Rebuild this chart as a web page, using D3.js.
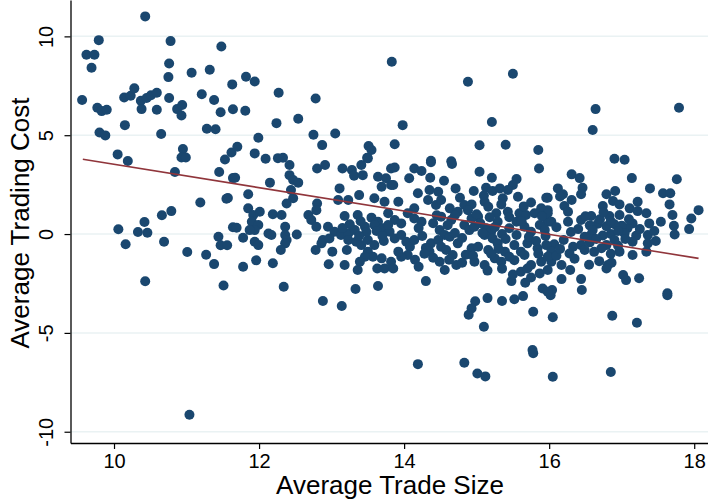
<!DOCTYPE html>
<html>
<head>
<meta charset="utf-8">
<script src="https://cdn.jsdelivr.net/npm/d3@7"></script>
<style>
  html, body { margin: 0; padding: 0; background: #fff; }
  svg { display: block; font-family: "Liberation Sans", Arial, sans-serif; }
</style>
</head>
<body>
<div id="chart"></div>
<script>
// tick labels
const xTicks = [10, 12, 14, 16, 18];
const yTicks = [-10, -5, 0, 5, 10];

// fitted line
const fitX = [9.57, 18.06];
const fitY = [3.78, -1.23];

// [average trade size, average trading cost]
const points = [
  [10.43, 11.01], [9.79, 9.81], [10.78, 9.76], [9.62, 9.07], [9.73, 9.07], [11.48, 9.49],
  [9.69, 8.41], [10.76, 8.63], [10.75, 7.94], [11.07, 8.16], [11.32, 8.31], [11.63, 7.57],
  [9.56, 6.78], [10.14, 6.91], [10.23, 7.0], [10.28, 7.37], [10.37, 6.74], [10.45, 6.88],
  [10.51, 7.02], [10.59, 7.15], [10.76, 6.88], [10.38, 6.32], [10.59, 6.29], [9.77, 6.39],
  [9.83, 6.22], [9.90, 6.29], [10.87, 6.32], [10.94, 6.53], [10.93, 6.0], [11.21, 7.07],
  [11.38, 6.78], [11.47, 6.16], [11.64, 6.31], [10.15, 5.51], [9.80, 5.14], [9.88, 4.99],
  [10.65, 5.06], [11.28, 5.33], [11.40, 5.30], [10.95, 4.30], [10.93, 3.87], [10.99, 3.87],
  [10.05, 4.03], [10.19, 3.70], [11.53, 3.77], [11.62, 4.13],
  [10.84, 3.14], [11.45, 3.14], [11.64, 2.83], [11.19, 1.60], [11.55, 1.79], [10.79, 1.16],
  [10.66, 0.95], [10.42, 0.61], [10.06, 0.24], [10.33, 0.10], [10.46, 0.07], [10.16, -0.52],
  [10.69, -0.39], [11.44, -0.14], [11.47, -0.57], [11.56, -0.57], [11.01, -0.91], [11.27, -1.05],
  [11.38, -1.52], [11.64, 0.34], [10.43, -2.39], [11.51, -2.60], [11.04, -9.14],
  [11.82, 7.96], [11.94, 7.72], [12.27, 7.15], [12.78, 6.86], [11.81, 6.24], [12.24, 5.61],
  [12.54, 5.83], [11.99, 4.87], [12.75, 5.02], [13.05, 5.09], [12.87, 4.50], [13.83, 8.72],
  [11.70, 4.42], [11.94, 4.08], [12.09, 3.81], [12.26, 3.84], [12.33, 3.86], [13.51, 4.45],
  [13.55, 4.25], [13.49, 3.86], [13.87, 4.54],
  [14.88, 7.70], [15.50, 8.11], [13.98, 5.51], [15.21, 5.67], [15.04, 4.49], [15.40, 4.52],
  [15.85, 4.25], [14.37, 3.71], [14.65, 3.68],
  [16.64, 6.32], [17.79, 6.39], [16.60, 5.26], [16.90, 3.81], [17.04, 3.76],
  [14.98, -3.40], [14.93, -3.76], [14.89, -4.08], [15.15, -3.24], [15.35, -3.39], [15.52, -3.30],
  [15.64, -3.14], [15.78, -3.93], [16.05, -4.21], [15.10, -4.69], [14.19, -6.58], [14.83, -6.51],
  [15.01, -7.05], [15.12, -7.20], [15.77, -5.87], [15.78, -6.03], [16.05, -7.22],
  [16.87, -4.13], [17.21, -4.49], [16.85, -6.98], [17.63, -3.09], [16.02, -3.09],
  [12.88, -3.39], [13.14, -3.64],
  [16.31, 3.02], [16.42, 2.83], [17.14, 2.83], [17.76, 2.77], [17.39, 2.31], [16.12, 2.31],
  [16.19, 2.01], [16.46, 2.34], [16.44, 2.01], [16.91, 2.18], [16.79, 2.01], [17.57, 2.06],
  [17.67, 2.06], [15.98, 1.84], [16.31, 1.72], [16.88, 1.67], [16.97, 1.50], [17.22, 1.63],
  [17.66, 1.50], [18.06, 1.21], [16.21, 1.42], [16.26, 1.13], [16.74, 1.42], [17.11, 1.30],
  [17.22, 1.16], [17.70, 0.96], [17.96, 0.79], [17.34, 1.05], [15.98, 1.21], [15.98, 0.62],
  [16.58, 0.91], [16.83, 0.91], [16.97, 0.96], [16.44, 0.71], [16.26, 0.62], [17.54, 0.62],
  [17.72, 0.42], [17.93, 0.25], [17.38, 0.54],
  [17.15, 0.54], [17.08, 0.30], [17.00, 0.42], [16.90, 0.50], [16.79, 0.40], [16.67, 0.52], [16.56, 0.44],
  [17.73, -0.02], [17.36, -0.05], [17.20, -0.08], [17.04, 0.03], [16.85, 0.00], [16.74, -0.07],
  [16.58, -0.03], [16.49, -0.14],
  [16.07, -0.52], [16.33, -0.64], [16.44, -0.56], [16.56, -0.42], [16.79, -0.56], [16.95, -0.59],
  [17.15, -0.39], [17.36, -0.47], [17.47, -0.35],
  [16.28, -0.98], [16.49, -0.81], [16.72, -0.72], [16.97, -0.89], [17.15, -1.06], [17.34, -0.89],
  [16.69, -1.37], [16.81, -1.57], [16.86, -1.45], [16.79, -1.74],
  [16.03, -1.40], [16.17, -1.57], [16.29, -1.82], [17.02, -2.07], [17.06, -2.33], [17.24, -2.24],
  [16.44, -2.28], [16.17, -2.28], [16.45, -2.83], [16.04, -2.83], [17.63, -3.00],
  [12.42, 3.49], [12.80, 3.32], [12.91, 3.49], [13.15, 3.32], [13.28, 3.24], [13.41, 3.49],
  [13.50, 3.83], [13.31, 2.95], [13.43, 2.98], [13.64, 2.90], [13.75, 2.82], [13.82, 3.32],
  [11.67, 2.85], [12.15, 2.60], [12.42, 2.98], [12.47, 2.73], [12.54, 2.60], [13.69, 2.39],
  [13.82, 2.48], [12.44, 2.23], [12.47, 1.81], [12.38, 1.55], [13.11, 2.31], [13.38, 1.97],
  [11.85, 2.01], [11.57, 1.82], [13.09, 1.72], [13.23, 1.72], [13.59, 1.81], [13.73, 1.63],
  [12.80, 1.55], [12.79, 1.21], [11.85, 1.30], [11.92, 0.96], [12.01, 1.13], [12.19, 1.00],
  [12.31, 0.96], [12.68, 0.96], [12.72, 0.71], [13.18, 0.91], [13.36, 0.96], [13.55, 0.83],
  [13.64, 0.62], [11.90, 0.62], [11.99, 0.46], [11.94, 0.20], [11.87, 0.20], [11.69, 0.32],
  [12.36, 0.37], [12.36, -0.05], [12.79, 0.37], [12.95, 0.37], [13.04, 0.12], [13.13, -0.05],
  [13.23, 0.03], [13.32, 0.20], [13.46, 0.37], [13.59, 0.46], [13.71, 0.29], [13.80, 0.12],
  [12.13, 0.03], [12.17, -0.05], [12.52, -0.02], [11.78, -0.19], [11.94, -0.39], [11.99, -0.56],
  [12.38, -0.30], [12.36, -0.47], [12.88, -0.30], [12.97, -0.22], [12.86, -0.47], [13.23, -0.30],
  [13.34, -0.39], [13.41, -0.56], [13.50, -0.30], [13.59, -0.56], [13.72, -0.35], [12.30, -0.81],
  [12.78, -0.81], [13.01, -0.89], [13.21, -0.81], [13.50, -0.89], [13.57, -1.15], [13.46, -1.15],
  [13.39, -1.40], [13.69, -1.23], [11.78, -1.65], [11.96, -1.33], [12.19, -1.48], [12.96, -1.53],
  [13.18, -1.57], [13.36, -1.82], [13.63, -1.74], [13.73, -1.74], [12.34, -2.67], [13.33, -2.78],
  [13.64, -2.63],
  [13.25, 0.50], [13.40, 0.65], [13.48, 0.10], [13.62, 0.15], [13.70, -0.10], [13.38, -0.10], [13.15, 0.30],
  [13.87, 3.37], [14.37, 3.63], [14.66, 3.54], [14.14, 3.32], [14.24, 3.19], [14.07, 2.82],
  [14.36, 2.85], [14.55, 2.70], [15.04, 3.15], [15.21, 2.85], [15.55, 2.78], [15.50, 2.48],
  [15.86, 3.32], [13.85, 2.48], [14.19, 2.06], [14.35, 2.23], [14.47, 2.14], [14.71, 2.31],
  [14.96, 2.18], [15.13, 2.34], [15.22, 2.18], [15.32, 2.31], [15.43, 2.23], [15.57, 1.89],
  [15.96, 1.84], [14.33, 1.72], [14.44, 1.47], [14.51, 1.72], [14.77, 1.84], [14.83, 1.47],
  [14.93, 1.50], [15.11, 1.63], [15.16, 1.38], [15.36, 1.81], [15.34, 1.50], [13.92, 1.63],
  [14.14, 1.30], [14.05, 1.05], [14.63, 1.30], [14.74, 1.13], [14.88, 1.21], [15.02, 0.88],
  [14.93, 0.79], [15.27, 1.05], [15.29, 0.62], [15.43, 1.13], [15.59, 1.05], [15.68, 0.96],
  [15.80, 1.05], [15.89, 1.30], [15.98, 1.05], [13.78, 1.05], [13.87, 0.71], [13.96, 0.54],
  [13.78, 0.46], [14.14, 0.79], [14.24, 0.62], [14.51, 0.88], [14.65, 0.71],
  [14.83, 0.46], [14.90, 0.20], [14.97, 0.37], [15.13, 0.29], [15.20, 0.12], [15.11, -0.05],
  [15.22, -0.22], [14.49, 0.20], [14.56, -0.05], [14.63, -0.14], [15.45, 0.29], [15.55, 0.62],
  [15.66, 0.37], [15.75, 0.12], [15.87, 0.46], [15.94, 0.20], [16.03, 0.62],
  [13.87, -0.22], [13.96, -0.05], [14.03, -0.39], [14.08, -0.64], [14.14, -0.30], [14.05, -1.06],
  [13.96, -1.15], [14.37, -0.47], [14.47, -0.30], [14.51, -0.64], [14.35, -0.89], [14.58, -0.81],
  [14.67, -1.06], [14.74, -0.47],
  [14.93, -0.72], [15.02, -0.64], [15.16, -0.81], [15.29, -0.47], [15.39, -0.89], [15.52, -0.56],
  [15.61, -0.89], [15.70, -0.47], [15.84, -0.72], [15.96, -0.56], [16.03, -0.89],
  [14.97, -1.40], [15.11, -1.57], [15.25, -1.23], [15.34, -1.40], [15.52, -1.32], [15.66, -1.06],
  [15.75, -1.57], [15.89, -1.40], [15.98, -1.15], [15.61, -1.91], [15.70, -1.74], [15.87, -1.99],
  [15.98, -1.82], [13.82, -1.40], [13.85, -1.74], [13.92, -0.89], [14.72, -1.57], [14.56, -1.82],
  [14.49, -1.40], [14.30, -2.38], [15.48, -2.38], [15.67, -2.46], [15.91, -2.75], [15.98, -2.92],
  [15.00, 1.00], [15.05, 0.55], [15.18, 0.85], [15.25, 0.35], [15.08, 0.05], [15.35, 0.00],
  [15.40, -0.25], [15.45, 0.85], [15.62, 0.65], [15.72, -0.15], [15.82, -0.35], [15.90, 0.90],
  [15.65, 1.40], [15.75, 1.60], [15.55, -0.05], [15.30, -0.75], [14.80, -0.20], [14.70, 0.05],
  [14.25, -0.10], [14.20, 0.30], [14.30, -0.70], [14.40, 0.55], [14.60, 0.45], [14.15, -1.30],
  [14.28, -1.00], [14.85, -1.05], [15.20, -1.00], [15.45, -1.15], [15.85, -1.00], [15.95, -0.10],
  [16.60, 0.20], [16.70, 0.75], [16.85, 0.65], [16.95, 0.15], [17.05, -0.25], [16.65, -0.25],
  [16.90, -0.30], [17.10, 0.75], [16.40, 0.25], [16.50, 0.90], [16.30, 0.10], [16.20, -0.30],
  [16.75, 1.10], [17.25, 0.25], [17.45, 0.15], [16.62, -0.90], [16.85, -1.00],
  [14.40, -1.20], [14.62, -1.30], [14.80, -1.45], [14.95, -1.10], [15.15, -1.85], [15.35, -1.75],
  [15.50, -2.05], [15.75, -2.20], [16.10, -1.10], [16.15, -0.75], [16.35, -1.25], [16.55, -1.55],
  [14.45, 0.95], [14.70, 0.95], [15.10, 1.95], [16.10, 0.35], [16.15, 1.90], [14.20, -1.65]
];

const width = 708;
const height = 502;

const svg = d3.select('#chart')
  .append('svg')
  .attr('width', width)
  .attr('height', height);

// plot region
const plotLeft = 70.5;
const plotRight = 708;
const plotTop = 0;
const plotBottom = 443;

const x = d3.scaleLinear().domain([9.40, 18.19]).range([plotLeft, plotRight]);
const y = d3.scaleLinear().domain([-10.57, 11.84]).range([plotBottom, plotTop]);

// horizontal gridlines
svg.append('g')
  .selectAll('line')
  .data(yTicks)
  .enter()
  .append('line')
  .attr('x1', plotLeft)
  .attr('x2', plotRight)
  .attr('y1', d => y(d))
  .attr('y2', d => y(d))
  .attr('stroke', '#eaf2f3')
  .attr('stroke-width', 1.5);

// markers
svg.append('g')
  .selectAll('circle')
  .data(points)
  .enter()
  .append('circle')
  .attr('cx', d => x(d[0]))
  .attr('cy', d => y(d[1]))
  .attr('r', 5)
  .attr('fill', '#1a476f');

// fitted values
const line = d3.line()
  .x(d => x(d[0]))
  .y(d => y(d[1]));

svg.append('path')
  .datum(fitX.map((v, i) => [v, fitY[i]]))
  .attr('d', line)
  .attr('fill', 'none')
  .attr('stroke', '#90353b')
  .attr('stroke-width', 1.6);

// axes
const xAxis = d3.axisBottom(x).tickValues(xTicks).tickSize(6).tickSizeOuter(0).tickPadding(5);
const yAxis = d3.axisLeft(y).tickValues(yTicks).tickSize(6).tickSizeOuter(0)
  .tickFormat(d => d < 0 ? '-' + Math.abs(d) : d);

const xAxisGroup = svg.append('g')
  .attr('transform', `translate(0, ${plotBottom})`)
  .call(xAxis);

const yAxisGroup = svg.append('g')
  .attr('transform', `translate(${plotLeft}, 0)`)
  .call(yAxis);

[xAxisGroup, yAxisGroup].forEach(g => {
  g.select('.domain').attr('stroke', '#000').attr('stroke-width', 1.3);
  g.selectAll('.tick line').attr('stroke', '#000').attr('stroke-width', 1.2);
  g.selectAll('text')
    .attr('fill', '#000')
    .style('font-size', '20px')
    .style('font-family', '"Liberation Sans", Arial, sans-serif');
});

// y tick labels are vertical
yAxisGroup.selectAll('.tick text')
  .attr('x', 0)
  .attr('dy', 0)
  .attr('text-anchor', 'middle')
  .attr('transform', 'translate(-17.5, 0) rotate(-90)');

// axis titles
svg.append('text')
  .attr('x', 390)
  .attr('y', 494)
  .attr('text-anchor', 'middle')
  .style('font-size', '26px')
  .text('Average Trade Size');

svg.append('text')
  .attr('transform', 'translate(29, 223) rotate(-90)')
  .attr('text-anchor', 'middle')
  .style('font-size', '26px')
  .text('Average Trading Cost');
</script>
</body>
</html>
